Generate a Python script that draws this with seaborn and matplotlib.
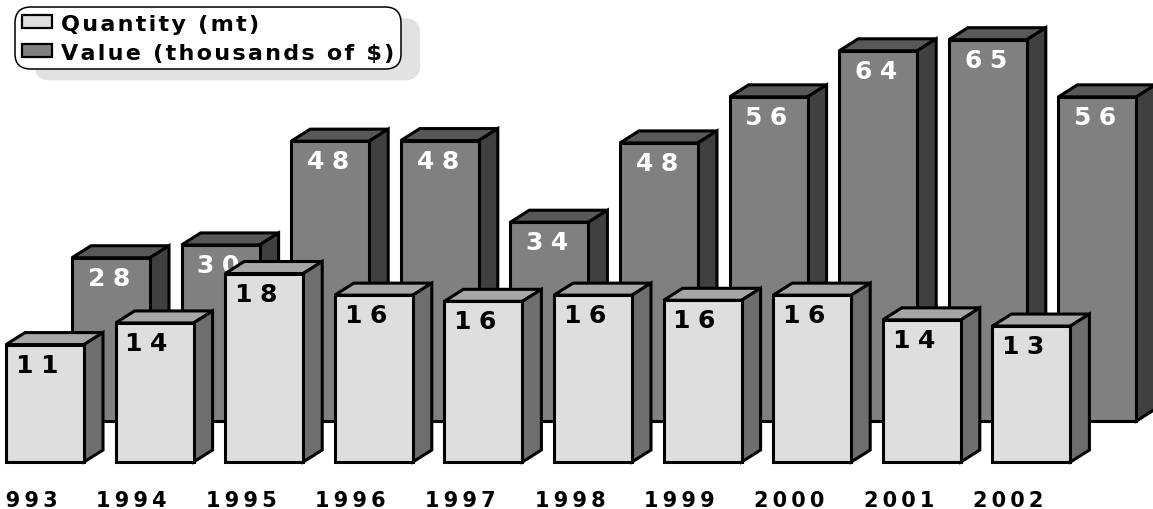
import pandas as pd
import seaborn as sns
import matplotlib.pyplot as plt
from matplotlib.patches import Patch, Polygon
from matplotlib.transforms import ScaledTranslation

years = ['1993', '1994', '1995', '1996', '1997', '1998', '1999', '2000', '2001', '2002']
quantity = [11.4, 13.5, 18.3, 16.2, 15.6, 16.2, 15.7, 16.2, 13.8, 13.2]
value = [28, 30.2, 48, 48.1, 34.1, 47.7, 55.6, 63.5, 65.4, 55.6]
quantity_labels = ['11', '14', '18', '16', '16', '16', '16', '16', '14', '13']
value_labels = ['28', '30', '48', '48', '34', '48', '56', '64', '65', '56']
legend_labels = ['Quantity (mt)', 'Value (thousands of $)']

W, H = 1153, 510
STEP = 109.6  # px between two bars
BAR_W = 78
DEPTH_X, DEPTH_Y = 19, 12  # px, fake 3D
LW = 2.2


def spaced(s, gap='\u2009\u200a'):
    return gap.join(s)


def px(v):
    return v * 72 / 100


def draw_bars(ax, col, scale, front, top, side):
    df = pd.DataFrame({'year': years, col: quantity if col == 'quantity' else value})
    sns.barplot(data=df, x='year', y=col, color=front, saturation=1, width=BAR_W / STEP,
                edgecolor='black', linewidth=LW, ax=ax)
    dx, dy = DEPTH_X / STEP, DEPTH_Y / scale
    for bar in list(ax.patches):
        bar.set_clip_on(False)
        x, w, h = bar.get_x(), bar.get_width(), bar.get_height()
        top_face = [(x, h), (x + dx, h + dy), (x + w + dx, h + dy), (x + w, h)]
        side_face = [(x + w, 0), (x + w + dx, dy), (x + w + dx, h + dy), (x + w, h)]
        ax.add_patch(Polygon(top_face, fc=top, ec='black', lw=LW, zorder=0.9, clip_on=False))
        ax.add_patch(Polygon(side_face, fc=side, ec='black', lw=LW, zorder=0.9, clip_on=False))
    ax.set_ylabel('')
    ax.set_xlabel('')
    ax.set_yticks([])
    sns.despine(ax=ax, left=True, bottom=True)
    ax.patch.set_visible(False)


sns.set_style('white')
fig = plt.figure(figsize=(W / 100, H / 100), dpi=100)

# value bars sit behind and higher up, so each series gets its own axes
VALUE_BASE, QUANT_BASE = 422, 463
VALUE_SCALE, QUANT_SCALE = 5.83, 10.3
ax_v = fig.add_axes([0, (H - VALUE_BASE) / H, 1, VALUE_BASE / H])
ax_q = fig.add_axes([0, (H - QUANT_BASE) / H, 1, QUANT_BASE / H])

draw_bars(ax_v, 'value', VALUE_SCALE, '#808080', '#585858', '#404040')
draw_bars(ax_q, 'quantity', QUANT_SCALE, '#DEDEDE', '#A6A6A6', '#6E6E6E')

ax_v.set_xlim(-111 / STEP, (W - 111) / STEP)
ax_v.set_ylim(0, VALUE_BASE / VALUE_SCALE)
ax_q.set_xlim(-45 / STEP, (W - 45) / STEP)
ax_q.set_ylim(0, QUANT_BASE / QUANT_SCALE)
ax_v.set_xticks([])

for i, label in enumerate(value_labels):
    ax_v.annotate(spaced(label), (i, value[i]), xytext=(px(-2), px(-20)), textcoords='offset points',
                  ha='center', va='center', color='white', fontweight='bold', fontsize=18, zorder=5)
for i, label in enumerate(quantity_labels):
    ax_q.annotate(spaced(label), (i, quantity[i]), xytext=(px(-8), px(-20)), textcoords='offset points',
                  ha='center', va='center', color='black', fontweight='bold', fontsize=18, zorder=5)

# year labels sit left of the bars
ax_q.set_xticks(range(len(years)))
ax_q.set_xticklabels([spaced(y, '\u2009') for y in years], fontweight='bold', fontsize=15, color='black')
ax_q.tick_params(axis='x', length=0, pad=px(28))
shift = ScaledTranslation(px(-23) / 72, 0, fig.dpi_scale_trans)
for tick in ax_q.get_xticklabels():
    tick.set_transform(tick.get_transform() + shift)

handles = [Patch(fc='#DEDEDE', ec='black', lw=1.6), Patch(fc='#808080', ec='black', lw=1.6)]
leg = ax_q.legend(handles, [spaced(t, '\u200a') for t in legend_labels],
                  loc='upper left', bbox_to_anchor=(15 / W, 1 - 8 / H), bbox_transform=fig.transFigure,
                  prop={'weight': 'bold', 'size': 16}, labelcolor='black', frameon=True, fancybox=True,
                  facecolor='white', edgecolor='black', framealpha=1,
                  borderaxespad=0, borderpad=0.3, labelspacing=0.4,
                  handlelength=1.36, handleheight=0.5, handletextpad=0.4,
                  shadow={'ox': 14, 'oy': -8, 'facecolor': '#E2E2E2', 'edgecolor': 'none', 'alpha': 1})
leg.get_frame().set_boxstyle('round', pad=0, rounding_size=0.7)
leg.get_frame().set_linewidth(1.1)

fig.savefig('out.png', dpi=100)
